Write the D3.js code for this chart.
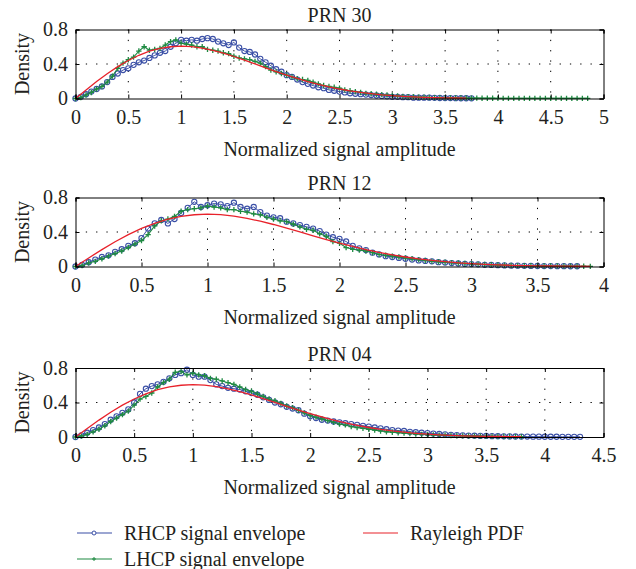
<!DOCTYPE html>
<html>
<head>
<meta charset="utf-8">
<script src="https://cdn.jsdelivr.net/npm/d3@7/dist/d3.min.js"></script>
<style>
body { margin: 0; background: #fff; }
svg text { font-family: "Liberation Serif", "Times New Roman", serif; font-size: 20px; fill: #231f20; }
</style>
</head>
<body>
<script>
// sample spacing of the envelope histograms and of the pdf curve
var binStep = 0.05;
var pdfStep = 0.1;

var titles = ["PRN 30", "PRN 12", "PRN 04"];
var xMaxes = [5, 4, 4.5];
var xTicks30 = [0, 0.5, 1, 1.5, 2, 2.5, 3, 3.5, 4, 4.5, 5];
var xTicks12 = [0, 0.5, 1, 1.5, 2, 2.5, 3, 3.5, 4];
var xTicks04 = [0, 0.5, 1, 1.5, 2, 2.5, 3, 3.5, 4, 4.5];
var yTicks = [0, 0.4, 0.8];

// PRN 30
var rhcp30 = [0, .02, .05, .08, .11, .14, .19, .25, .29, .33, .35, .39, .42, .44, .47, .50, .53, .55, .60, .64,
  .68, .67, .68, .67, .69, .70, .69, .66, .64, .62, .65, .59, .55, .54, .51, .46, .42, .38, .34, .31,
  .27, .25, .22, .19, .17, .15, .13, .12, .10, .09, .08, .07, .06, .055, .05, .045, .04, .035, .03, .025,
  .02, .02, .015, .015, .01, .01, .01, .01, .008, .006, .005, .005, .004, .003, .003, .002];
var lhcp30 = [0, .01, .04, .07, .11, .14, .19, .26, .35, .41, .45, .48, .55, .60, .56, .57, .58, .62, .66, .68,
  .64, .63, .62, .60, .60, .57, .56, .55, .53, .52, .49, .47, .46, .45, .43, .41, .37, .33, .31, .29,
  .27, .25, .23, .22, .21, .19, .17, .15, .14, .13, .12, .10, .09, .08, .07, .06, .055, .05, .045, .04,
  .035, .03, .025, .02, .02, .015, .015, .012, .01, .01, .008, .007, .006, .005, .005, .004, .004, .003, .003, .003,
  .002, .002, .002, .002, .002, .002, .002, .001, .001, .001, .001, .001, .001, .001, .001, .001, .001, .001];
var pdf30 = [0, .099, .196, .287, .369, .441, .501, .548, .581, .600, .607, .601, .584, .558, .525, .487, .445, .401, .356, .312,
  .271, .232, .196, .163, .135, .110, .088, .070, .056, .043, .033, .025, .019, .014, .010, .008, .006, .004];

// PRN 12
var rhcp12 = [0, .02, .05, .08, .11, .13, .17, .20, .24, .27, .33, .44, .50, .54, .50, .55, .62, .68, .75, .69,
  .71, .73, .72, .70, .74, .69, .67, .69, .63, .59, .57, .56, .52, .50, .48, .46, .44, .41, .37, .34,
  .32, .29, .24, .21, .19, .16, .14, .12, .11, .10, .09, .08, .07, .065, .06, .05, .045, .04, .035, .03,
  .028, .025, .02, .018, .015, .013, .01, .01, .008, .007, .006, .005, .005, .004, .004, .003, .003];
var lhcp12 = [0, .01, .04, .06, .09, .12, .15, .18, .22, .26, .30, .37, .47, .53, .55, .58, .64, .66, .67, .68,
  .70, .69, .68, .66, .66, .64, .63, .61, .60, .57, .55, .53, .52, .49, .46, .43, .42, .38, .35, .29,
  .27, .22, .20, .19, .18, .16, .14, .13, .12, .11, .10, .09, .08, .07, .06, .055, .05, .045, .04, .035,
  .03, .027, .023, .02, .017, .015, .012, .01, .009, .008, .007, .006, .005, .005, .004, .004, .003, .003, .002];
var pdf12 = [0, .099, .196, .287, .369, .441, .501, .548, .581, .600, .607, .601, .584, .558, .525, .487, .445, .401, .356, .312,
  .271, .232, .196, .163, .135, .110, .088, .070, .056, .043, .033, .025, .019, .014, .010, .008, .006, .004, .003, .002];

// PRN 04
var rhcp04 = [0, .02, .05, .08, .11, .15, .20, .24, .28, .32, .40, .50, .56, .59, .61, .64, .68, .72, .74, .78,
  .72, .70, .70, .66, .61, .59, .57, .56, .55, .53, .51, .49, .46, .43, .40, .38, .35, .33, .31, .27,
  .24, .22, .20, .19, .18, .17, .16, .15, .14, .13, .12, .11, .10, .09, .08, .075, .07, .06, .055, .05,
  .045, .04, .035, .03, .025, .022, .02, .017, .015, .013, .012, .01, .009, .008, .007, .006, .005, .005, .004, .004,
  .003, .003, .003, .002, .002, .002, .002];
var lhcp04 = [0, .01, .03, .06, .09, .13, .18, .22, .26, .30, .37, .44, .47, .51, .58, .63, .67, .75, .76, .72,
  .74, .72, .71, .68, .67, .65, .63, .61, .58, .55, .53, .50, .47, .44, .42, .39, .36, .34, .31, .28,
  .25, .23, .21, .19, .17, .15, .14, .12, .11, .10, .09, .08, .07, .06, .055, .05, .045, .04, .035, .03,
  .028, .025, .022, .02, .017, .015, .013, .011, .01, .009, .008, .007, .006, .005, .005, .004, .004];
var pdf04 = [0, .099, .196, .287, .369, .441, .501, .548, .581, .600, .607, .601, .584, .558, .525, .487, .445, .401, .356, .312,
  .271, .232, .196, .163, .135, .110, .088, .070, .056, .043, .033, .025, .019, .014, .010, .008, .006, .004, .003];

var legendLabels = ["RHCP signal envelope", "LHCP signal envelope", "Rayleigh PDF"];

var panels = [
  {title: titles[0], xMax: xMaxes[0], xTicks: xTicks30, rhcp: rhcp30, lhcp: lhcp30, pdf: pdf30},
  {title: titles[1], xMax: xMaxes[1], xTicks: xTicks12, rhcp: rhcp12, lhcp: lhcp12, pdf: pdf12},
  {title: titles[2], xMax: xMaxes[2], xTicks: xTicks04, rhcp: rhcp04, lhcp: lhcp04, pdf: pdf04}
];

var w = 636, h = 569;
var left = 75.5, right = 603.5, ph = 69;
var tops = [29.5, 197.5, 368];
var blue = "#3a4fa6", green = "#1f8a42", red = "#e8222b";

var svg = d3.select("body").append("svg")
  .attr("width", w)
  .attr("height", h);

var plus = "M-2.7,0H2.7M0,-2.7V2.7";

panels.forEach(function(p, k){
  var top = tops[k];
  var x = d3.scaleLinear().domain([0, p.xMax]).range([left, right]);
  var y = d3.scaleLinear().domain([0, 0.8]).range([top + ph, top]);
  var g = svg.append("g").attr("class", "panel");

  // dotted grid
  g.selectAll(".vgrid")
    .data(p.xTicks.slice(1, -1))
    .enter().append("line")
    .attr("x1", function(d){ return x(d); })
    .attr("x2", function(d){ return x(d); })
    .attr("y1", top).attr("y2", top + ph)
    .style("stroke", "#000").style("stroke-width", 1)
    .style("stroke-dasharray", "1.3,9");
  g.selectAll(".hgrid")
    .data([0.4])
    .enter().append("line")
    .attr("x1", left).attr("x2", right)
    .attr("y1", function(d){ return y(d); })
    .attr("y2", function(d){ return y(d); })
    .style("stroke", "#000").style("stroke-width", 1)
    .style("stroke-dasharray", "1.3,9");

  // series
  var binLine = d3.line()
    .x(function(d, i){ return x(i * binStep); })
    .y(function(d){ return y(d); });
  var pdfLine = d3.line()
    .x(function(d, i){ return x(i * pdfStep); })
    .y(function(d){ return y(d); });

  g.append("path").datum(p.rhcp)
    .attr("d", binLine)
    .style("fill", "none").style("stroke", blue).style("stroke-width", 1);
  g.selectAll(".rh").data(p.rhcp).enter().append("circle")
    .attr("cx", function(d, i){ return x(i * binStep); })
    .attr("cy", function(d){ return y(d); })
    .attr("r", 2.6)
    .style("fill", "none").style("stroke", blue).style("stroke-width", 1.1);

  g.append("path").datum(p.lhcp)
    .attr("d", binLine)
    .style("fill", "none").style("stroke", green).style("stroke-width", 1.1);
  g.selectAll(".lh").data(p.lhcp).enter().append("path")
    .attr("transform", function(d, i){ return "translate(" + x(i * binStep) + "," + y(d) + ")"; })
    .attr("d", plus)
    .style("fill", "none").style("stroke", green).style("stroke-width", 1.3);

  g.append("path").datum(p.pdf)
    .attr("d", pdfLine)
    .style("fill", "none").style("stroke", red).style("stroke-width", 1.3);

  // axes, ticks pointing inward like matlab
  var fmt = d3.format("");
  g.append("g").attr("class", "axis")
    .attr("transform", "translate(0," + (top + ph) + ")")
    .call(d3.axisBottom(x).tickValues(p.xTicks).tickSize(-4).tickPadding(11).tickFormat(fmt));
  g.append("g").attr("class", "axis")
    .attr("transform", "translate(0," + top + ")")
    .call(d3.axisTop(x).tickValues(p.xTicks).tickSize(-4).tickFormat(""));
  g.append("g").attr("class", "axis")
    .attr("transform", "translate(" + left + ",0)")
    .call(d3.axisLeft(y).tickValues(yTicks).tickSize(-4).tickPadding(7.5).tickFormat(fmt));
  g.append("g").attr("class", "axis")
    .attr("transform", "translate(" + right + ",0)")
    .call(d3.axisRight(y).tickValues(yTicks).tickSize(-4).tickFormat(""));
  g.selectAll(".axis").attr("font-family", null).attr("font-size", null);
  g.selectAll(".axis path").style("stroke", "#000").style("stroke-width", 1);
  g.selectAll(".axis line").style("stroke", "#000");
  g.selectAll(".axis text").attr("fill", null);

  g.append("text")
    .attr("x", (left + right) / 2).attr("y", top - 7.5)
    .attr("text-anchor", "middle")
    .text(p.title);
  g.append("text")
    .attr("x", (left + right) / 2).attr("y", top + ph + 57)
    .attr("text-anchor", "middle")
    .text("Normalized signal amplitude");
  g.append("text")
    .attr("transform", "translate(29," + (top + ph / 2) + ") rotate(-90)")
    .attr("text-anchor", "middle")
    .text("Density");
});

// legend
var legend = [
  {label: legendLabels[0], color: blue, mark: "circle", lx: 77, ly: 533},
  {label: legendLabels[1], color: green, mark: "plus", lx: 77, ly: 559},
  {label: legendLabels[2], color: red, mark: null, lx: 363, ly: 533}
];
var lg = svg.selectAll(".legend").data(legend).enter().append("g").attr("class", "legend");
lg.append("line")
  .attr("x1", function(d){ return d.lx; })
  .attr("x2", function(d){ return d.lx + 35; })
  .attr("y1", function(d){ return d.ly; })
  .attr("y2", function(d){ return d.ly; })
  .style("stroke", function(d){ return d.color; })
  .style("stroke-width", 1.2);
lg.filter(function(d){ return d.mark === "circle"; }).append("circle")
  .attr("cx", function(d){ return d.lx + 17; })
  .attr("cy", function(d){ return d.ly; })
  .attr("r", 2)
  .style("fill", "#fff").style("stroke", function(d){ return d.color; });
lg.filter(function(d){ return d.mark === "plus"; }).append("path")
  .attr("transform", function(d){ return "translate(" + (d.lx + 17) + "," + d.ly + ")"; })
  .attr("d", "M-2,0H2M0,-2V2")
  .style("stroke", function(d){ return d.color; });
lg.append("text")
  .attr("x", function(d){ return d.lx + 47; })
  .attr("y", function(d){ return d.ly + 6.5; })
  .text(function(d){ return d.label; });
</script>
</body>
</html>
